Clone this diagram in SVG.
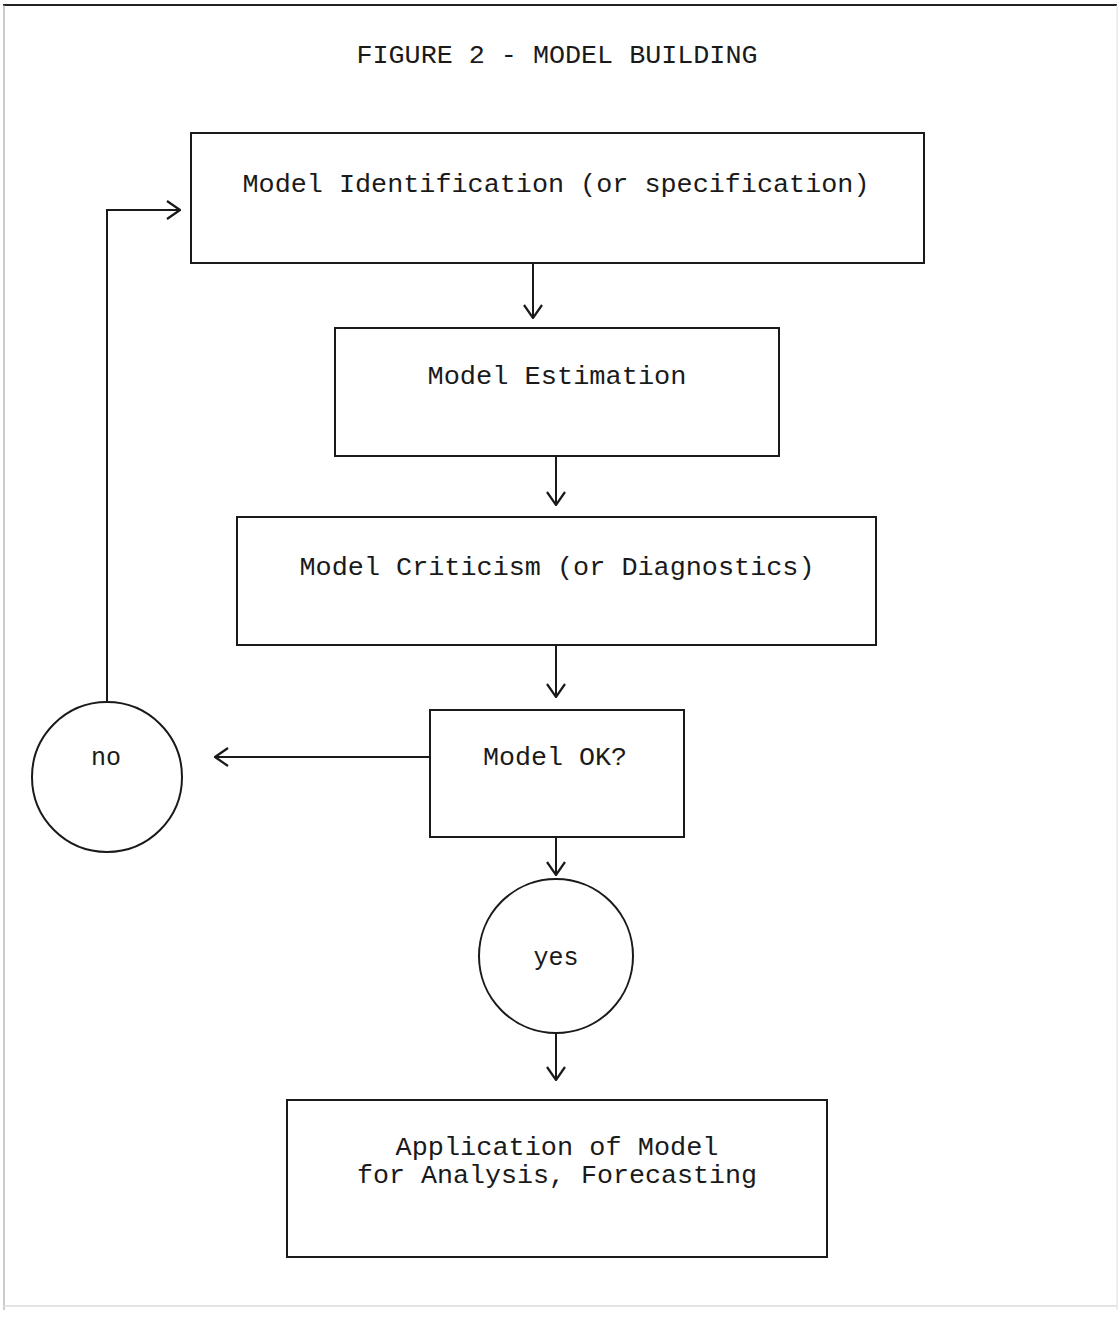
<svg xmlns="http://www.w3.org/2000/svg" width="1119" height="1317" viewBox="0 0 1119 1317">
<style>
.bx{fill:none;stroke:#1a1a1a;stroke-width:2}
.ln{fill:none;stroke:#1a1a1a;stroke-width:2}
.t{font-family:"Liberation Mono","DejaVu Sans Mono",monospace;font-size:25px;fill:#1a1a1a;text-anchor:middle}
</style>
<defs>
<marker id="ah" viewBox="0 0 16 20" refX="15" refY="10" markerWidth="16" markerHeight="20" markerUnits="userSpaceOnUse" orient="auto">
<polyline points="2,1 15,10 2,19" fill="none" stroke="#1a1a1a" stroke-width="2.2"/>
</marker>
</defs>
<rect width="1119" height="1317" fill="#fff"/>
<g id="frame">
<line x1="3" y1="5" x2="1117" y2="5" stroke="#222" stroke-width="2"/>
<line x1="4" y1="5" x2="4" y2="1310" stroke="#999" stroke-width="1"/>
<line x1="1117" y1="5" x2="1117" y2="1310" stroke="#ddd" stroke-width="1"/>
<line x1="4" y1="1306" x2="1117" y2="1306" stroke="#e4e4e4" stroke-width="2"/>
</g>
<text id="title" class="t" x="557" y="63" textLength="401" lengthAdjust="spacingAndGlyphs" style="font-size:26px">FIGURE 2 - MODEL BUILDING</text>
<g id="connectors">
<line class="ln" x1="533" y1="263" x2="533" y2="318" marker-end="url(#ah)"/>
<line class="ln" x1="556" y1="456" x2="556" y2="505" marker-end="url(#ah)"/>
<line class="ln" x1="556" y1="645" x2="556" y2="697" marker-end="url(#ah)"/>
<line class="ln" x1="430" y1="757" x2="215" y2="757" marker-end="url(#ah)"/>
<polyline class="ln" points="107,702 107,210 180,210" marker-end="url(#ah)"/>
<line class="ln" x1="556" y1="837" x2="556" y2="875" marker-end="url(#ah)"/>
<line class="ln" x1="556" y1="1032" x2="556" y2="1080" marker-end="url(#ah)"/>
</g>
<g id="n1">
<rect class="bx" x="191" y="133" width="733" height="130"/>
<text class="t" x="556" y="192" textLength="627" lengthAdjust="spacingAndGlyphs">Model Identification (or specification)</text>
</g>
<g id="n2">
<rect class="bx" x="335" y="328" width="444" height="128"/>
<text class="t" x="557" y="384" textLength="259" lengthAdjust="spacingAndGlyphs">Model Estimation</text>
</g>
<g id="n3">
<rect class="bx" x="237" y="517" width="639" height="128"/>
<text class="t" x="557" y="575" textLength="515" lengthAdjust="spacingAndGlyphs">Model Criticism (or Diagnostics)</text>
</g>
<g id="n4">
<rect class="bx" x="430" y="710" width="254" height="127"/>
<text class="t" x="555" y="765" textLength="144" lengthAdjust="spacingAndGlyphs">Model OK?</text>
</g>
<g id="n_no">
<circle class="bx" cx="107" cy="777" r="75"/>
<text class="t" x="106" y="765">no</text>
</g>
<g id="n_yes">
<circle class="bx" cx="556" cy="956" r="77"/>
<text class="t" x="556" y="965">yes</text>
</g>
<g id="n5">
<rect class="bx" x="287" y="1100" width="540" height="157"/>
<text class="t" x="557" y="1155" textLength="323" lengthAdjust="spacingAndGlyphs">Application of Model</text>
<text class="t" x="557" y="1183" textLength="400" lengthAdjust="spacingAndGlyphs">for Analysis, Forecasting</text>
</g>
</svg>
